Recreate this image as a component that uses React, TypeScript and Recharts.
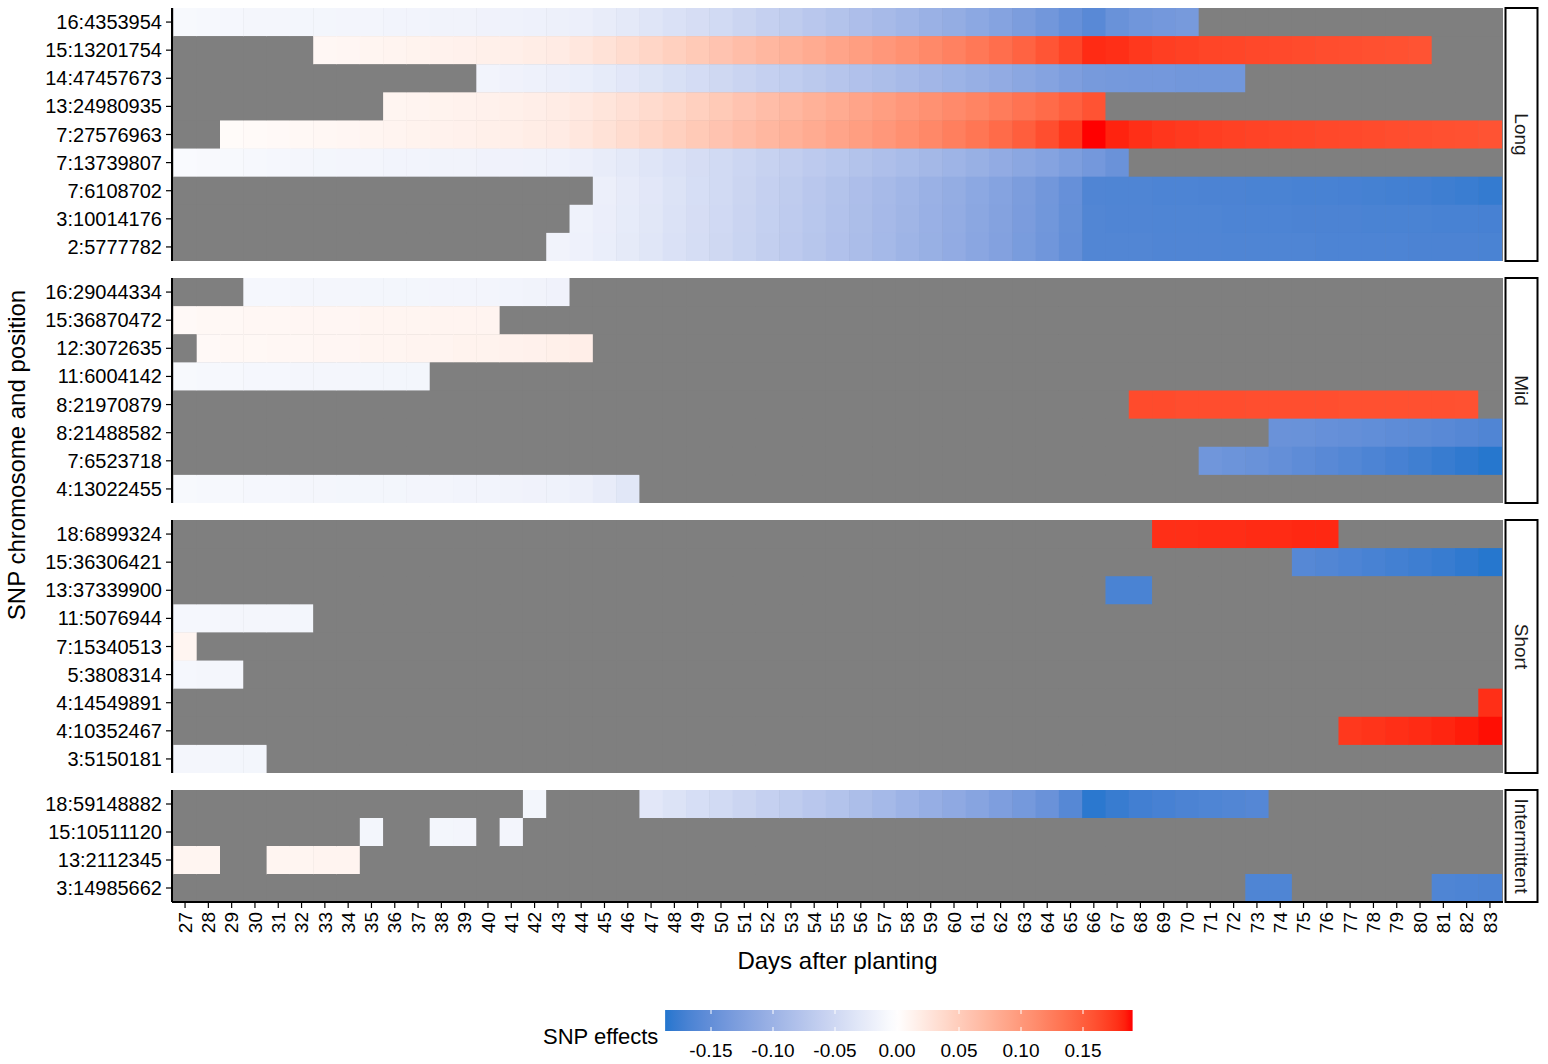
import React from 'react';
import { BarChart, Bar, XAxis, YAxis, Cell, CartesianGrid } from 'recharts';

const FONT = '"Liberation Sans", Arial, Helvetica, sans-serif';

// ---------- axis categories ----------
const DAYS = [27, 28, 29, 30, 31, 32, 33, 34, 35, 36, 37, 38, 39, 40, 41, 42, 43, 44, 45, 46, 47, 48, 49, 50, 51, 52, 53, 54, 55,
  56, 57, 58, 59, 60, 61, 62, 63, 64, 65, 66, 67, 68, 69, 70, 71, 72, 73, 74, 75, 76, 77, 78, 79, 80, 81, 82, 83];
const LEGEND_TICKS = [-0.15, -0.1, -0.05, 0, 0.05, 0.1, 0.15];
const LEGEND_LABELS = ['-0.15', '-0.10', '-0.05', '0.00', '0.05', '0.10', '0.15'];
const LEGEND_RANGE = [-0.187, 0.19];

type Segment = [number, number[]];

// ---------- Long ----------
const LONG_SNPS = ['16:4353954', '15:13201754', '14:47457673', '13:24980935', '7:27576963', '7:13739807', '7:6108702', '3:10014176', '2:5777782'];
const LONG_EFFECTS: Segment[][] = [
  [[27, [-0.008, -0.009, -0.010, -0.011, -0.011, -0.012, -0.012, -0.013, -0.013, -0.014, -0.014, -0.015, -0.015, -0.016, -0.017, -0.018, -0.019, -0.020,
    -0.024, -0.028, -0.033, -0.038, -0.043, -0.048, -0.054, -0.060, -0.066, -0.072, -0.078, -0.084, -0.090, -0.096, -0.102, -0.108, -0.115, -0.122, -0.130, -0.138, -0.148, -0.158, -0.146, -0.140, -0.137, -0.134]]],
  [[33, [0.008, 0.009, 0.010, 0.011, 0.012, 0.013, 0.014, 0.015, 0.016, 0.018, 0.020,
    0.024, 0.029, 0.035, 0.041, 0.047, 0.053, 0.059, 0.065, 0.071, 0.077, 0.083, 0.089, 0.095, 0.101, 0.107, 0.114, 0.121, 0.129, 0.137, 0.146, 0.156, 0.167, 0.180,
    0.178, 0.174, 0.171, 0.169, 0.167, 0.166, 0.165, 0.164, 0.163, 0.162, 0.161, 0.160, 0.159, 0.158]]],
  [[40, [-0.014, -0.016, -0.018, -0.020, -0.022,
    -0.026, -0.030, -0.035, -0.040, -0.045, -0.050, -0.055, -0.060, -0.065, -0.070, -0.075, -0.080, -0.085, -0.090, -0.095, -0.100, -0.105, -0.110, -0.116, -0.122, -0.128, -0.134,
    -0.136, -0.137, -0.137, -0.138, -0.138, -0.138]]],
  [[36, [0.010, 0.011, 0.012, 0.013, 0.014, 0.015, 0.017, 0.019, 0.022,
    0.026, 0.031, 0.036, 0.041, 0.047, 0.053, 0.059, 0.065, 0.071, 0.077, 0.083, 0.089, 0.095, 0.101, 0.107, 0.113, 0.119, 0.126, 0.133, 0.140, 0.148, 0.158]]],
  [[29, [0.004, 0.005, 0.006, 0.007, 0.008, 0.009, 0.010, 0.011, 0.012, 0.013, 0.014, 0.015, 0.016, 0.018, 0.020,
    0.024, 0.029, 0.035, 0.041, 0.047, 0.053, 0.059, 0.065, 0.071, 0.077, 0.083, 0.089, 0.095, 0.101, 0.108, 0.115, 0.123, 0.131, 0.140, 0.150, 0.161, 0.174, 0.190,
    0.183, 0.178, 0.175, 0.173, 0.171, 0.169, 0.168, 0.167, 0.166, 0.165, 0.164, 0.163, 0.162, 0.161, 0.160, 0.159, 0.158]]],
  [[27, [-0.006, -0.007, -0.008, -0.009, -0.010, -0.011, -0.012, -0.013, -0.013, -0.014, -0.014, -0.015, -0.015, -0.016, -0.016, -0.017, -0.018, -0.020,
    -0.024, -0.028, -0.033, -0.038, -0.043, -0.048, -0.053, -0.058, -0.063, -0.068, -0.073, -0.078, -0.083, -0.088, -0.093, -0.098, -0.104, -0.110, -0.116, -0.122, -0.129, -0.137, -0.145]]],
  [[45, [-0.020, -0.025, -0.030, -0.036, -0.042, -0.048, -0.054, -0.060, -0.066, -0.072, -0.078, -0.084, -0.090, -0.096, -0.102, -0.108, -0.115, -0.122, -0.130, -0.138, -0.148, -0.164,
    -0.165, -0.165, -0.166, -0.166, -0.167, -0.167, -0.168, -0.168, -0.169, -0.169, -0.170, -0.171, -0.172, -0.173, -0.175, -0.177, -0.180]]],
  [[44, [-0.017,
    -0.021, -0.026, -0.031, -0.037, -0.043, -0.049, -0.055, -0.061, -0.067, -0.073, -0.079, -0.085, -0.091, -0.097, -0.103, -0.109, -0.116, -0.123, -0.131, -0.139, -0.149, -0.163,
    -0.164, -0.164, -0.165, -0.165, -0.165, -0.166, -0.166, -0.166, -0.167, -0.167, -0.167, -0.168, -0.168, -0.168, -0.169, -0.169, -0.170]]],
  [[43, [-0.015, -0.018,
    -0.022, -0.027, -0.032, -0.038, -0.044, -0.050, -0.056, -0.062, -0.068, -0.074, -0.080, -0.086, -0.092, -0.098, -0.104, -0.110, -0.117, -0.124, -0.132, -0.140, -0.150, -0.163,
    -0.163, -0.163, -0.164, -0.164, -0.164, -0.165, -0.165, -0.165, -0.165, -0.166, -0.166, -0.166, -0.166, -0.167, -0.167, -0.167, -0.168]]],
];

// ---------- Mid ----------
const MID_SNPS = ['16:29044334', '15:36870472', '12:3072635', '11:6004142', '8:21970879', '8:21488582', '7:6523718', '4:13022455'];
const MID_EFFECTS: Segment[][] = [
  [[30, [-0.010, -0.010, -0.011, -0.011, -0.011, -0.012, -0.012, -0.012, -0.013, -0.013, -0.013, -0.014, -0.015, -0.016]]],
  [[27, [0.006, 0.007, 0.007, 0.008, 0.008, 0.009, 0.009, 0.009, 0.010, 0.010, 0.010, 0.011, 0.011, 0.011]]],
  [[28, [0.006, 0.007, 0.007, 0.008, 0.008, 0.009, 0.009, 0.010, 0.010, 0.011, 0.011, 0.012, 0.012, 0.013, 0.014, 0.015, 0.017]]],
  [[27, [-0.008, -0.009, -0.009, -0.010, -0.010, -0.011, -0.011, -0.011, -0.012, -0.012, -0.012]]],
  [[68, [0.163, 0.163, 0.162, 0.162, 0.162, 0.161, 0.161, 0.161, 0.161, 0.160, 0.160, 0.160, 0.160, 0.160, 0.159]]],
  [[74, [-0.145, -0.146, -0.148, -0.150, -0.152, -0.154, -0.156, -0.158, -0.161, -0.164]]],
  [[71, [-0.140, -0.143, -0.146, -0.150, -0.154, -0.158, -0.162, -0.166, -0.170, -0.174, -0.178, -0.182, -0.186]]],
  [[27, [-0.008, -0.009, -0.009, -0.010, -0.010, -0.011, -0.011, -0.012, -0.012, -0.012, -0.013, -0.013, -0.014, -0.014, -0.015, -0.016, -0.017, -0.019, -0.024, -0.031]]],
];

// ---------- Short ----------
const SHORT_SNPS = ['18:6899324', '15:36306421', '13:37339900', '11:5076944', '7:15340513', '5:3808314', '4:14549891', '4:10352467', '3:5150181'];
const SHORT_EFFECTS: Segment[][] = [
  [[69, [0.178, 0.178, 0.179, 0.179, 0.180, 0.180, 0.181, 0.181]]],
  [[75, [-0.160, -0.163, -0.166, -0.169, -0.172, -0.175, -0.178, -0.182, -0.186]]],
  [[67, [-0.168, -0.168]]],
  [[27, [-0.010, -0.010, -0.011, -0.011, -0.011, -0.012]]],
  [[27, [0.010]]],
  [[27, [-0.010, -0.011, -0.011]]],
  [[83, [0.178]]],
  [[77, [0.174, 0.176, 0.178, 0.180, 0.182, 0.185, 0.188]]],
  [[27, [-0.011, -0.011, -0.012, -0.012]]],
];

// ---------- Intermittent ----------
const INT_SNPS = ['18:59148882', '15:10511120', '13:2112345', '3:14985662'];
const INT_EFFECTS: Segment[][] = [
  [[42, [-0.012]], [47, [-0.030, -0.036, -0.042, -0.048, -0.054, -0.060, -0.066, -0.072, -0.078, -0.085, -0.092, -0.099, -0.106, -0.113, -0.120, -0.128, -0.136, -0.145, -0.160, -0.184,
    -0.178, -0.173, -0.170, -0.167, -0.165, -0.163, -0.161]]],
  [[35, [-0.012]], [38, [-0.012, -0.013]], [41, [-0.013]]],
  [[27, [0.010, 0.010]], [31, [0.010, 0.010, 0.011, 0.011]]],
  [[73, [-0.165, -0.165]], [81, [-0.165, -0.166, -0.167]]],
];

// ---------- colour scale (ggplot gradient2-like, Lab interpolation) ----------
const LOW_RGB = [24, 116, 205];
const MID_RGB = [255, 255, 255];
const HIGH_RGB = [255, 0, 0];
const SCALE_LIMIT = 0.19;
const NA_GREY = '#7f7f7f';

function rgbToLab(c: number[]): number[] {
  const lin = (v: number) => { v /= 255; return v <= 0.04045 ? v / 12.92 : Math.pow((v + 0.055) / 1.055, 2.4); };
  const R = lin(c[0]), G = lin(c[1]), B = lin(c[2]);
  const X = (R * 0.4124564 + G * 0.3575761 + B * 0.1804375) / 0.95047;
  const Y = R * 0.2126729 + G * 0.7151522 + B * 0.072175;
  const Z = (R * 0.0193339 + G * 0.119192 + B * 0.9503041) / 1.08883;
  const f = (t: number) => (t > 216 / 24389 ? Math.cbrt(t) : (24389 / 27 * t + 16) / 116);
  const fx = f(X), fy = f(Y), fz = f(Z);
  return [116 * fy - 16, 500 * (fx - fy), 200 * (fy - fz)];
}
function labToRgb(l: number[]): string {
  const fy = (l[0] + 16) / 116, fx = fy + l[1] / 500, fz = fy - l[2] / 200;
  const inv = (t: number) => (t * t * t > 216 / 24389 ? t * t * t : (116 * t - 16) / (24389 / 27));
  const X = inv(fx) * 0.95047, Y = inv(fy), Z = inv(fz) * 1.08883;
  const R = 3.2404542 * X - 1.5371385 * Y - 0.4985314 * Z;
  const G = -0.969266 * X + 1.8760108 * Y + 0.041556 * Z;
  const B = 0.0556434 * X - 0.2040259 * Y + 1.0572252 * Z;
  const g = (v: number) => {
    const s = v <= 0.0031308 ? 12.92 * v : 1.055 * Math.pow(Math.max(v, 0), 1 / 2.4) - 0.055;
    return Math.round(Math.max(0, Math.min(1, s)) * 255);
  };
  return `rgb(${g(R)},${g(G)},${g(B)})`;
}
const LAB_LOW = rgbToLab(LOW_RGB), LAB_MID = rgbToLab(MID_RGB), LAB_HIGH = rgbToLab(HIGH_RGB);
function effectColor(v: number): string {
  const t = Math.max(-1, Math.min(1, v / SCALE_LIMIT));
  const end = t < 0 ? LAB_LOW : LAB_HIGH;
  const a = Math.abs(t);
  return labToRgb([0, 1, 2].map((i) => LAB_MID[i] + (end[i] - LAB_MID[i]) * a));
}

// ---------- layout ----------
const PAGE_W = 1548;
const PAGE_H = 1064;
const PLOT_LEFT = 172;
const PLOT_RIGHT = 1503;
const X_DOMAIN: [number, number] = [26.44, 83.56];
const BAR_BASE = 26.5;
const X_AXIS_H = 70;

const PANELS = [
  { name: 'Long', snps: LONG_SNPS, effects: LONG_EFFECTS, top: 8, height: 253 },
  { name: 'Mid', snps: MID_SNPS, effects: MID_EFFECTS, top: 278, height: 225 },
  { name: 'Short', snps: SHORT_SNPS, effects: SHORT_EFFECTS, top: 520, height: 253 },
  { name: 'Intermittent', snps: INT_SNPS, effects: INT_EFFECTS, top: 790, height: 112 },
];

const CellShape = (p: any) => (
  <rect x={p.x} y={p.y} width={Math.max(0, p.width + 0.5)} height={Math.max(0, p.height + 0.5)} fill={p.fill} stroke="none" />
);

const YTick = (p: any) => (
  <text x={p.x} y={p.y} dy="0.35em" textAnchor="end" fontSize={20} fill="#000" fontFamily={FONT}>
    {p.payload.value}
  </text>
);

const XTick = (p: any) => (
  <text x={p.x} y={p.y} dy="0.35em" textAnchor="end" fontSize={19} fill="#000" fontFamily={FONT}
    transform={`rotate(-90 ${p.x} ${p.y})`}>
    {p.payload.value}
  </text>
);

function Panel({ snps, effects, top, height, showX }: { snps: string[]; effects: Segment[][]; top: number; height: number; showX: boolean }) {
  const lookups = effects.map((segs) => {
    const m = new Map<number, number>();
    segs.forEach(([start, vals]) => vals.forEach((v, k) => m.set(start + k, v)));
    return m;
  });
  const data = snps.map((snp) => {
    const row: Record<string, any> = { snp, base: BAR_BASE };
    DAYS.forEach((d) => { row[`d${d}`] = 1; });
    return row;
  });
  return (
    <div style={{ position: 'absolute', left: 0, top }}>
      <BarChart
        width={PAGE_W}
        height={height + (showX ? X_AXIS_H : 0)}
        data={data}
        layout="vertical"
        barCategoryGap={0}
        barGap={0}
        margin={{ top: 0, right: PAGE_W - PLOT_RIGHT, bottom: 0, left: 0 }}
      >
        <CartesianGrid horizontal={false} vertical={false} fill={NA_GREY} stroke="none" />
        <XAxis
          type="number"
          domain={X_DOMAIN}
          allowDataOverflow
          ticks={DAYS}
          interval={0}
          hide={!showX}
          height={showX ? X_AXIS_H : 0}
          tick={<XTick />}
          tickSize={6}
          tickMargin={4}
          tickLine={{ stroke: '#000', strokeWidth: 1.2 }}
          axisLine={{ stroke: '#000', strokeWidth: 2 }}
        />
        <YAxis
          type="category"
          dataKey="snp"
          width={PLOT_LEFT}
          interval={0}
          tick={<YTick />}
          tickSize={6}
          tickMargin={4}
          tickLine={{ stroke: '#000', strokeWidth: 1.2 }}
          axisLine={{ stroke: '#000', strokeWidth: 2 }}
        />
        <Bar dataKey="base" stackId="s" fill="none" isAnimationActive={false} />
        {DAYS.map((d) => (
          <Bar key={d} dataKey={`d${d}`} stackId="s" isAnimationActive={false} shape={CellShape}>
            {lookups.map((m, i) => (
              <Cell key={i} fill={m.has(d) ? effectColor(m.get(d) as number) : NA_GREY} />
            ))}
          </Bar>
        ))}
      </BarChart>
    </div>
  );
}

function Overlay() {
  const legendX = (v: number) => 897 + 1240 * v;
  const barL = legendX(LEGEND_RANGE[0]);
  const barR = legendX(LEGEND_RANGE[1]);
  const stops: number[] = [];
  for (let i = 0; i <= 60; i++) stops.push(LEGEND_RANGE[0] + (LEGEND_RANGE[1] - LEGEND_RANGE[0]) * (i / 60));
  const plotMid = (PLOT_LEFT + PLOT_RIGHT) / 2;
  const allTop = PANELS[0].top;
  const allBottom = PANELS[3].top + PANELS[3].height;
  return (
    <svg width={PAGE_W} height={PAGE_H} style={{ position: 'absolute', left: 0, top: 0, pointerEvents: 'none' }}>
      <defs>
        <linearGradient id="snpGrad" x1="0" x2="1" y1="0" y2="0">
          {stops.map((v, i) => (
            <stop key={i} offset={`${(i / 60) * 100}%`} stopColor={effectColor(v)} />
          ))}
        </linearGradient>
      </defs>
      {PANELS.map((p) => (
        <g key={p.name}>
          <rect x={1505.5} y={p.top} width={32} height={p.height} fill="#fff" stroke="#000" strokeWidth={2} />
          <text x={1521.5} y={p.top + p.height / 2} dy="0.35em" textAnchor="middle" fontSize={19} fontFamily={FONT} fill="#1a1a1a"
            transform={`rotate(90 1521.5 ${p.top + p.height / 2})`}>
            {p.name}
          </text>
        </g>
      ))}
      <text x={plotMid} y={961} dy="0.35em" textAnchor="middle" fontSize={24} fontFamily={FONT} fill="#000">
        Days after planting
      </text>
      <text x={17} y={(allTop + allBottom) / 2} dy="0.35em" textAnchor="middle" fontSize={24} fontFamily={FONT} fill="#000"
        transform={`rotate(-90 17 ${(allTop + allBottom) / 2})`}>
        SNP chromosome and position
      </text>
      <text x={543} y={1036} dy="0.35em" textAnchor="start" fontSize={22} fontFamily={FONT} fill="#000">
        SNP effects
      </text>
      <rect x={barL} y={1010} width={barR - barL} height={21} fill="url(#snpGrad)" />
      {LEGEND_TICKS.map((v, i) => (
        <g key={i}>
          <line x1={legendX(v)} x2={legendX(v)} y1={1010} y2={1014} stroke="#fff" strokeWidth={1} />
          <line x1={legendX(v)} x2={legendX(v)} y1={1027} y2={1031} stroke="#fff" strokeWidth={1} />
          <text x={legendX(v)} y={1050} dy="0.35em" textAnchor="middle" fontSize={19} fontFamily={FONT} fill="#000">
            {LEGEND_LABELS[i]}
          </text>
        </g>
      ))}
    </svg>
  );
}

export default function App() {
  return (
    <div style={{ position: 'absolute', left: 0, top: 0, width: PAGE_W, height: PAGE_H, background: '#fff', fontFamily: FONT }}>
      {PANELS.map((p, i) => (
        <Panel key={p.name} snps={p.snps} effects={p.effects} top={p.top} height={p.height} showX={i === PANELS.length - 1} />
      ))}
      <Overlay />
    </div>
  );
}
